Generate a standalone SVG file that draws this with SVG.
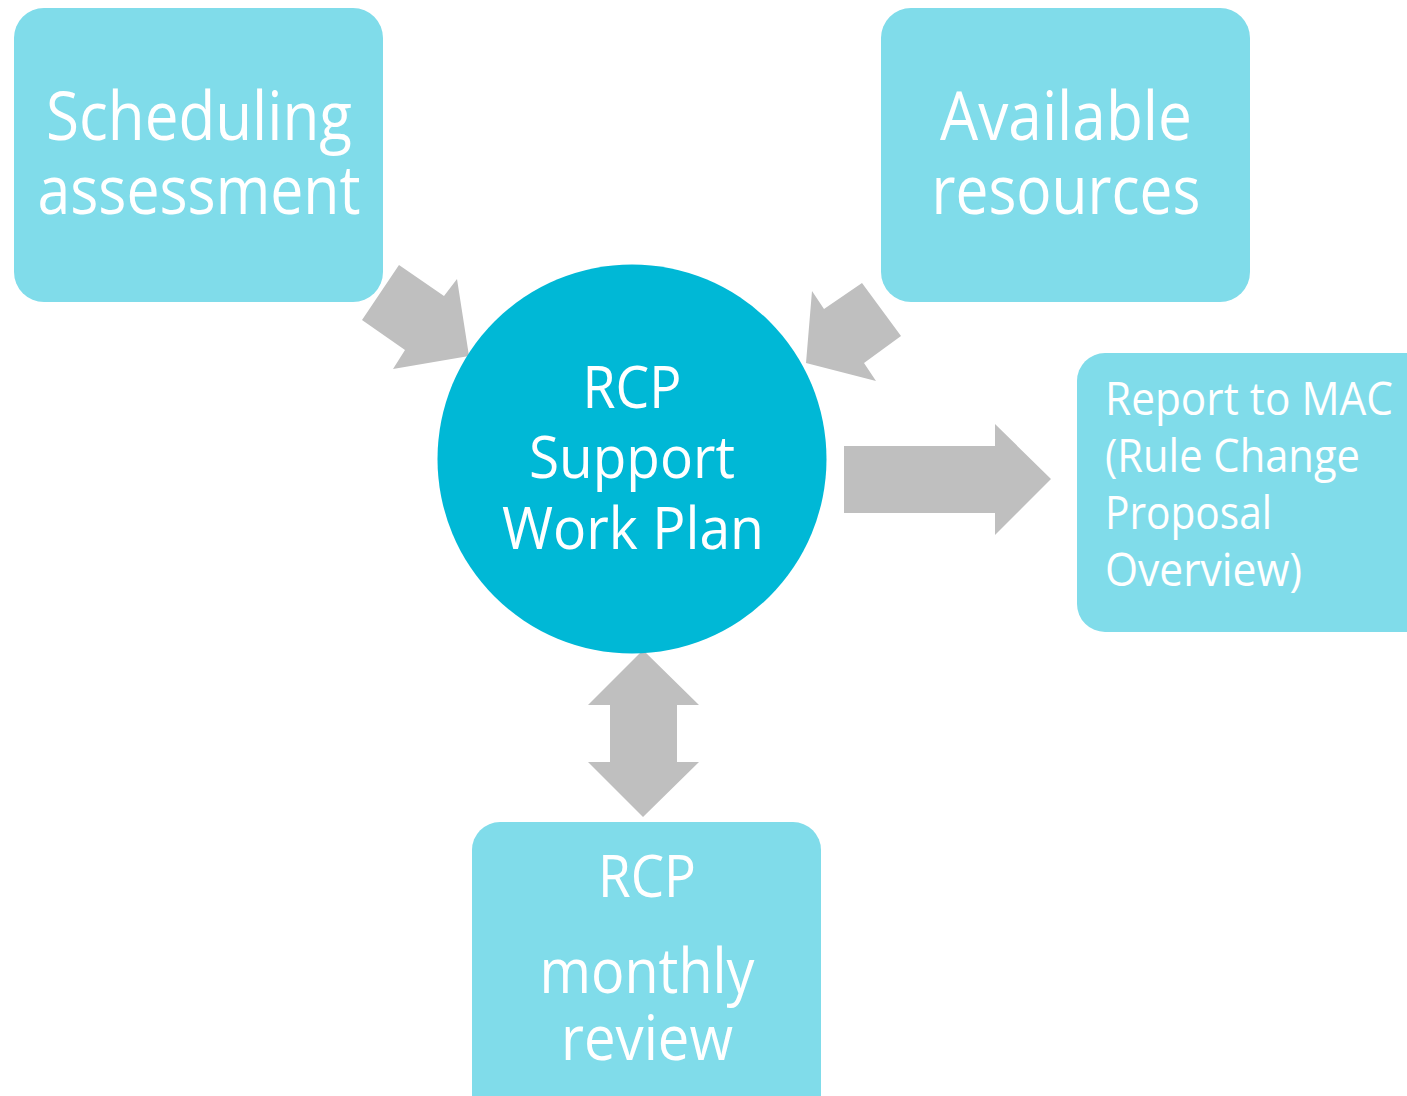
<svg xmlns="http://www.w3.org/2000/svg" width="1407" height="1096" viewBox="0 0 1407 1096">
<style>
.box{fill:#80DCEA;}
.hub{fill:#00B8D6;}
.arr{fill:#BFBFBF;}
text{font-family:"Open Sans","Noto Sans","Liberation Sans",sans-serif;fill:#FFFFFF;}
.c{text-anchor:middle;}
</style>
<rect width="1407" height="1096" fill="#FFFFFF"/>
<g id="connectors">
<polygon class="arr" points="399,265 444,296 457,279 469,356 393,369 405,350 362,320"/>
<polygon class="arr" points="862,283 901,336 864,363 876,381 806,363 812,291 824,309"/>
<polygon class="arr" points="643,650 699,705 677,705 677,762 699,762 643,817 588,762 610,762 610,705 588,705"/>
<polygon class="arr" points="844,446 995,446 995,424 1051,479 995,535 995,513 844,513"/>
</g>
<g id="scheduling">
<rect class="box" x="14" y="8" width="369" height="294" rx="30"/>
<text class="c" x="199" y="140" font-size="68" textLength="306" lengthAdjust="spacingAndGlyphs">Scheduling</text>
<text class="c" x="199" y="214" font-size="68" textLength="323" lengthAdjust="spacingAndGlyphs">assessment</text>
</g>
<g id="resources">
<rect class="box" x="881" y="8" width="369" height="294" rx="30"/>
<text class="c" x="1066" y="140" font-size="68" textLength="252" lengthAdjust="spacingAndGlyphs">Available</text>
<text class="c" x="1066" y="214" font-size="68" textLength="269" lengthAdjust="spacingAndGlyphs">resources</text>
</g>
<g id="workplan">
<circle class="hub" cx="632" cy="459" r="194.5"/>
<text class="c" x="632" y="408" font-size="59" textLength="99" lengthAdjust="spacingAndGlyphs">RCP</text>
<text class="c" x="632" y="478" font-size="59" textLength="206" lengthAdjust="spacingAndGlyphs">Support</text>
<text class="c" x="633" y="549" font-size="59" textLength="262" lengthAdjust="spacingAndGlyphs">Work Plan</text>
</g>
<g id="report">
<rect class="box" x="1077" y="353" width="360" height="279" rx="28"/>
<text x="1105" y="415" font-size="45" textLength="288" lengthAdjust="spacingAndGlyphs">Report to MAC</text>
<text x="1105" y="472" font-size="45" textLength="255" lengthAdjust="spacingAndGlyphs">(Rule Change</text>
<text x="1105" y="529" font-size="45" textLength="167" lengthAdjust="spacingAndGlyphs">Proposal</text>
<text x="1105" y="586" font-size="45" textLength="197" lengthAdjust="spacingAndGlyphs">Overview)</text>
</g>
<g id="review">
<rect class="box" x="472" y="822" width="349" height="310" rx="28"/>
<text class="c" x="647" y="897" font-size="59" textLength="98" lengthAdjust="spacingAndGlyphs">RCP</text>
<text class="c" x="647" y="993" font-size="62" textLength="215" lengthAdjust="spacingAndGlyphs">monthly</text>
<text class="c" x="647" y="1060" font-size="62" textLength="172" lengthAdjust="spacingAndGlyphs">review</text>
</g>
</svg>
